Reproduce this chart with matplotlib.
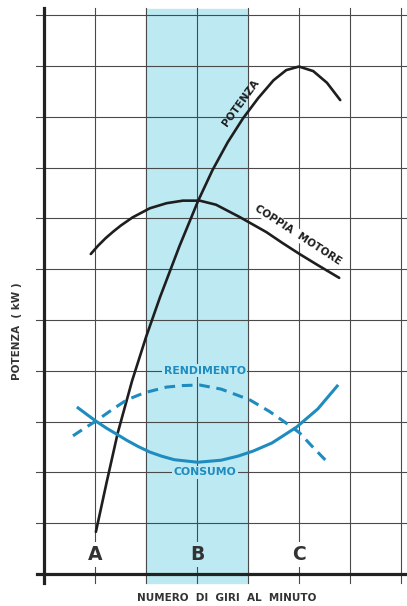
import matplotlib.pyplot as plt

# curve data (x in grid units, A=1, B=3, C=5; y in grid units)
potenza_x = [1.01, 1.22, 1.44, 1.72, 2.00, 2.27, 2.65, 3.02, 3.30, 3.60, 3.90, 4.20, 4.50, 4.75, 5.00, 5.28, 5.55, 5.81]
potenza_y = [0.83, 1.80, 2.78, 3.80, 4.68, 5.45, 6.45, 7.35, 7.95, 8.50, 8.97, 9.37, 9.72, 9.92, 9.99, 9.90, 9.67, 9.33]

coppia_x = [0.91, 1.05, 1.20, 1.35, 1.50, 1.73, 2.07, 2.40, 2.72, 3.05, 3.37, 3.83, 4.36, 4.67, 5.01, 5.37, 5.79]
coppia_y = [6.30, 6.46, 6.61, 6.74, 6.86, 7.02, 7.20, 7.30, 7.35, 7.35, 7.27, 7.03, 6.73, 6.52, 6.30, 6.08, 5.83]

rendimento_x = [0.56, 0.77, 1.01, 1.32, 1.62, 1.97, 2.40, 2.72, 3.05, 3.47, 4.03, 4.42, 4.75, 5.01, 5.27, 5.56]
rendimento_y = [2.72, 2.86, 3.01, 3.23, 3.43, 3.57, 3.68, 3.71, 3.72, 3.64, 3.43, 3.20, 2.97, 2.78, 2.50, 2.20]

consumo_x = [0.66, 0.82, 1.01, 1.22, 1.44, 1.62, 1.84, 2.07, 2.30, 2.55, 3.01, 3.47, 3.80, 4.10, 4.47, 4.95, 5.37, 5.75]
consumo_y = [3.27, 3.15, 3.01, 2.87, 2.74, 2.63, 2.51, 2.40, 2.32, 2.25, 2.20, 2.24, 2.32, 2.42, 2.58, 2.89, 3.25, 3.70]

points = ["A", "B", "C"]
points_x = [1, 3, 5]

blue = "#1f8cc0"
band = "#bde9f3"
grid = "#4a4a4a"
font = ["Liberation Sans Narrow", "DejaVu Sans"]

fig = plt.figure(figsize=(4.07, 6.06), dpi=100)
ax = fig.add_axes([0, 0, 1, 1])
ax.set_xlim(-0.874, 7.122)
ax.set_ylim(-0.63, 11.30)
ax.axis("off")

# highlighted band between A-B-C
ax.fill_between([2, 4], -0.18, 11.12, color=band, zorder=0)

# grid
for gx in range(1, 8):
    ax.plot([gx, gx], [-0.18, 11.15], color=grid, lw=0.8, zorder=1)
for gy in range(1, 12):
    ax.plot([-0.17, 7.2], [gy, gy], color=grid, lw=0.8, zorder=1)

# axes
ax.plot([0, 0], [-0.18, 11.15], color="#222222", lw=2.3, zorder=2)
ax.plot([-0.15, 7.2], [0, 0], color="#222222", lw=2.3, zorder=2)

# curves
ax.plot(potenza_x, potenza_y, color="#1e1e1e", lw=1.9, zorder=4, solid_capstyle="round",
        solid_joinstyle="round")
ax.plot(coppia_x, coppia_y, color="#1e1e1e", lw=1.9, zorder=4, solid_capstyle="round",
        solid_joinstyle="round")
ax.plot(rendimento_x, rendimento_y, color=blue, lw=2.2, dashes=(3.5, 2.2), zorder=4)
ax.plot(consumo_x, consumo_y, color=blue, lw=2.2, zorder=4, solid_joinstyle="round")

# labels
for lbl, px in zip(points, points_x):
    bg = band if 2 < px < 4 else "white"
    ax.text(px, 0.38, lbl, ha="center", va="center", fontsize=13.5, fontweight="bold",
            color="#333333", family=font, zorder=3,
            bbox=dict(boxstyle="square,pad=0.15", fc=bg, ec="none"))

ax.text(3.15, 4.0, "RENDIMENTO", ha="center", va="center", fontsize=7.8, fontweight="bold",
        color=blue, family=font, zorder=3,
        bbox=dict(boxstyle="square,pad=0.15", fc=band, ec="none"))
ax.text(3.15, 2.0, "CONSUMO", ha="center", va="center", fontsize=7.8, fontweight="bold",
        color=blue, family=font, zorder=3,
        bbox=dict(boxstyle="square,pad=0.15", fc=band, ec="none"))

ax.text(3.86, 9.27, "POTENZA", ha="center", va="center", rotation=54, fontsize=7.5,
        fontweight="bold", color="#1e1e1e", family=font, zorder=3)
ax.text(4.98, 6.67, "COPPIA  MOTORE", ha="center", va="center", rotation=-33, fontsize=7.5,
        fontweight="bold", color="#1e1e1e", family=font, zorder=3,
        bbox=dict(boxstyle="square,pad=0.1", fc="white", ec="none"))

ax.text(-0.54, 4.78, "POTENZA  ( kW )", ha="center", va="center", rotation=90, fontsize=7.5,
        fontweight="bold", color="#333333", family=font)
ax.text(3.57, -0.47, "NUMERO  DI  GIRI  AL  MINUTO", ha="center", va="center", fontsize=7.5,
        fontweight="bold", color="#333333", family=font)

fig.savefig("out.png", dpi=100)
